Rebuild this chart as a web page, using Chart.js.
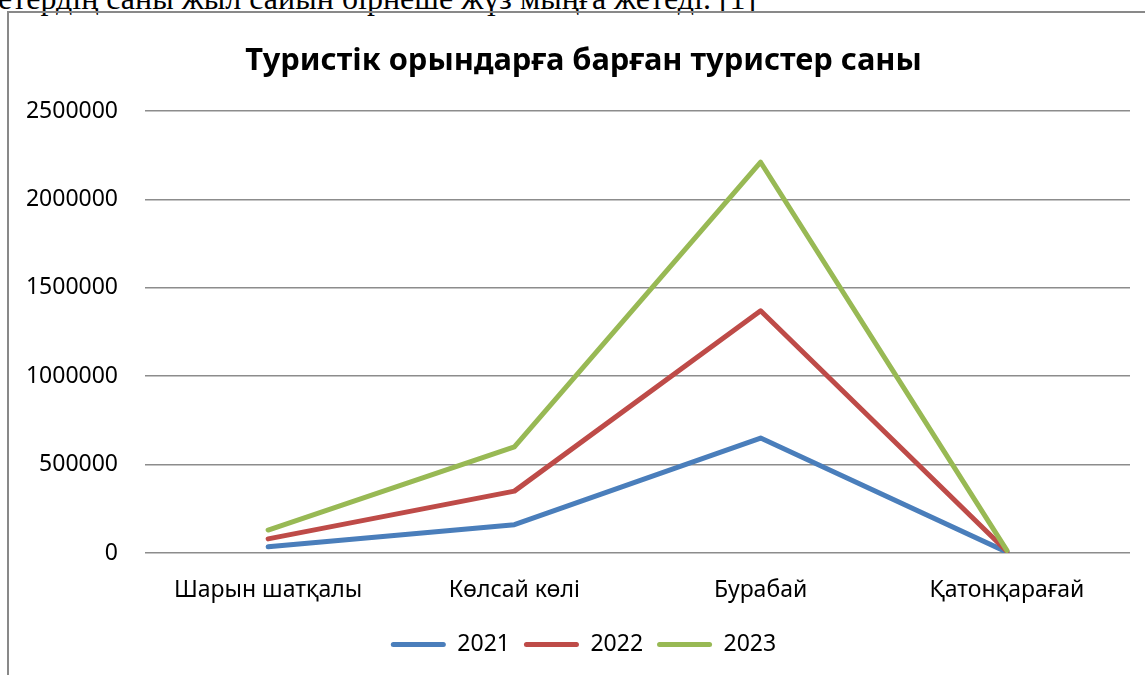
<!DOCTYPE html>
<html>
<head>
<meta charset="utf-8">
<script src="https://cdn.jsdelivr.net/npm/chart.js@4.4.1/dist/chart.umd.min.js"></script>
<style>
  html, body { margin: 0; padding: 0; background: #fff; overflow: hidden; }
  body { width: 1145px; height: 675px; position: relative; }
  .above {
    position: absolute; left: -2px; top: -18px;
    font: 32px/32px "Liberation Serif", serif; color: #000; white-space: nowrap;
  }
  .above .cut { position: absolute; right: 100%; top: 0; }
  .frame {
    position: absolute; left: 7px; top: 11px; width: 1200px; height: 700px;
    border-left: 2px solid #898989; border-top: 2px solid #898989;
  }
  .frame canvas { position: absolute; left: 0; top: 0; }
</style>
</head>
<body>
<div class="above"><span class="cut">турист</span>етердің саны жыл сайын бірнеше жүз мыңға жетеді. [1]</div>
<div class="frame">
  <canvas id="chart" width="1136" height="662"></canvas>
</div>
<script>
// chart values
const categories = ['Шарын шатқалы', 'Көлсай көлі', 'Бурабай', 'Қатонқарағай'];
const years = ['2021', '2022', '2023'];
const visitors2021 = [35000, 160000, 650000, 5000];
const visitors2022 = [80000, 350000, 1370000, 10000];
const visitors2023 = [130000, 600000, 2210000, 15000];
const yTicks = [0, 500000, 1000000, 1500000, 2000000, 2500000];

const colors = ['#4A7EBB', '#BE4B48', '#98B954'];
const FONT = '"Noto Sans", sans-serif';

function lineSet(label, data, color, order) {
  return {
    label: label,
    data: data,
    borderColor: color,
    backgroundColor: color,
    borderWidth: 5,
    pointRadius: 0,
    pointHoverRadius: 0,
    tension: 0,
    borderJoinStyle: 'round',
    borderCapStyle: 'round',
    fill: false,
    order: order // 2023 drawn on top
  };
}

// title and legend are centred on the whole frame in the picture, a bit right of the canvas centre
const shiftBlocks = {
  id: 'shiftBlocks',
  afterLayout(chart) {
    if (chart.titleBlock) chart.titleBlock.left += 28;
    if (chart.legend) chart.legend.left += 28;
  }
};

const ctx = document.getElementById('chart').getContext('2d');
new Chart(ctx, {
  type: 'line',
  data: {
    labels: categories,
    datasets: [
      lineSet(years[0], visitors2021, colors[0], 3),
      lineSet(years[1], visitors2022, colors[1], 2),
      lineSet(years[2], visitors2023, colors[2], 1)
    ]
  },
  plugins: [shiftBlocks],
  options: {
    responsive: false,
    animation: false,
    devicePixelRatio: 1,
    layout: { padding: { left: 0, right: 15, top: 0, bottom: 9 } },
    plugins: {
      title: {
        display: true,
        text: 'Туристік орындарға барған туристер саны',
        color: '#000',
        font: { family: FONT, size: 30.8, weight: 'bold', lineHeight: 1.2 },
        padding: { top: 30, bottom: 31 }
      },
      legend: {
        position: 'bottom',
        labels: {
          color: '#000',
          font: { family: FONT, size: 23 },
          boxWidth: 55,
          boxHeight: 5,
          useBorderRadius: true,
          borderRadius: 2.5,
          padding: 14,
          sort: (a, b) => a.datasetIndex - b.datasetIndex,
          generateLabels: chart => {
            const items = Chart.defaults.plugins.legend.labels.generateLabels(chart);
            items.forEach(it => { it.lineWidth = 0; });
            return items;
          }
        }
      },
      tooltip: { enabled: false }
    },
    scales: {
      x: {
        offset: true,
        grid: { display: false, drawTicks: false },
        border: { display: false },
        ticks: { color: '#000', font: { family: FONT, size: 23 }, padding: 24, maxRotation: 0 },
        afterFit: s => { s.height = 66; }
      },
      y: {
        min: 0,
        max: 2500000,
        afterBuildTicks: s => { s.ticks = yTicks.map(v => ({ value: v })); },
        grid: { color: '#8c8c8c', lineWidth: 1.5, drawTicks: false },
        border: { display: false },
        ticks: {
          color: '#000',
          font: { family: FONT, size: 23 },
          padding: 27,
          callback: v => String(v)
        },
        afterFit: s => { s.width = 136; }
      }
    }
  }
});
</script>
</body>
</html>
